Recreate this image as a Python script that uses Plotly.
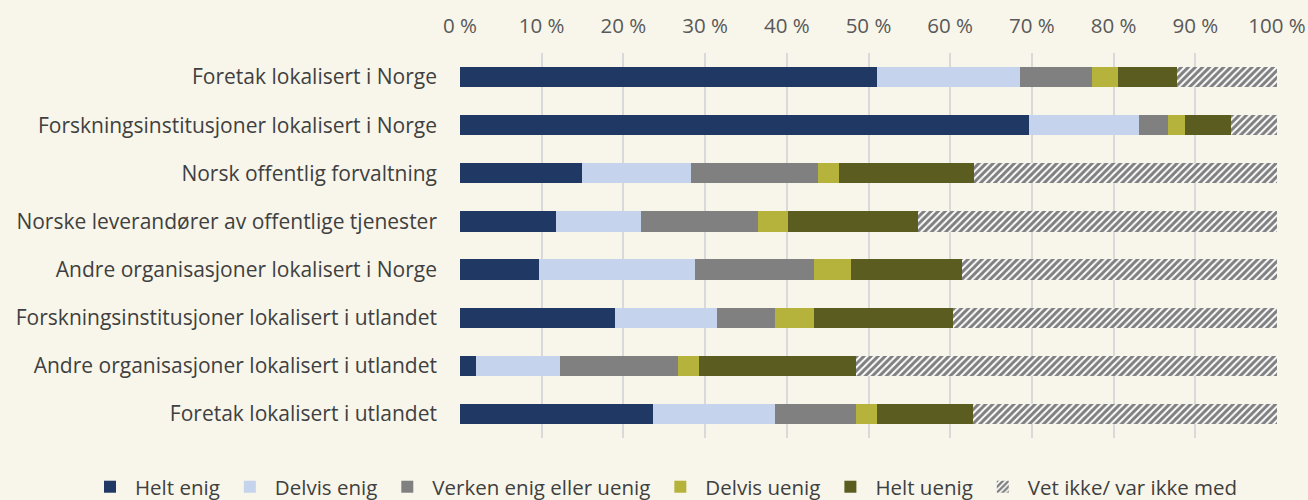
import plotly.graph_objects as go

categories = [
    "Foretak lokalisert i Norge",
    "Forskningsinstitusjoner lokalisert i Norge",
    "Norsk offentlig forvaltning",
    "Norske leverandører av offentlige tjenester",
    "Andre organisasjoner lokalisert i Norge",
    "Forskningsinstitusjoner lokalisert i utlandet",
    "Andre organisasjoner lokalisert i utlandet",
    "Foretak lokalisert i utlandet",
]

helt_enig = [51.0, 69.6, 14.9, 11.7, 9.7, 19.0, 1.9, 23.6]
delvis_enig = [17.6, 13.5, 13.4, 10.4, 19.1, 12.5, 10.4, 15.0]
verken = [8.8, 3.5, 15.5, 14.4, 14.5, 7.1, 14.4, 9.9]
delvis_uenig = [3.1, 2.1, 2.6, 3.7, 4.6, 4.7, 2.6, 2.6]
helt_uenig = [7.2, 5.7, 16.5, 15.9, 13.5, 17.0, 19.2, 11.7]
vet_ikke = [12.3, 5.6, 37.1, 43.9, 38.6, 39.7, 51.5, 37.2]

tick_vals = [0, 10, 20, 30, 40, 50, 60, 70, 80, 90, 100]
tick_text = ["0 %", "10 %", "20 %", "30 %", "40 %", "50 %", "60 %", "70 %", "80 %", "90 %", "100 %"]

series = [
    ("Helt enig", helt_enig, "#203864"),
    ("Delvis enig", delvis_enig, "#C5D3EC"),
    ("Verken enig eller uenig", verken, "#808080"),
    ("Delvis uenig", delvis_uenig, "#B6B33C"),
    ("Helt uenig", helt_uenig, "#5B5C20"),
]

FONT = "Open Sans"
fig = go.Figure()
for name, vals, col in series:
    fig.add_trace(go.Bar(
        name=name, y=categories, x=vals, orientation="h",
        marker=dict(color=col, line=dict(width=0)),
    ))
fig.add_trace(go.Bar(
    name="Vet ikke/ var ikke med", y=categories, x=vet_ikke, orientation="h",
    marker=dict(color="white", line=dict(width=0),
                pattern=dict(shape="/", fgcolor="#000000", bgcolor="white",
                             size=5, solidity=0.6)),
))

bg = "#F8F6EA"
fig.update_layout(
    barmode="stack",
    bargap=0.58,
    paper_bgcolor=bg,
    plot_bgcolor=bg,
    width=1308, height=500,
    margin=dict(l=460, r=31, t=53, b=62, autoexpand=False),
    font=dict(family=FONT, color="#404040", size=21),
    xaxis=dict(
        side="top", range=[0, 100], tickvals=tick_vals, ticktext=tick_text,
        showgrid=True, gridcolor="#D9D9D9", gridwidth=1.5, zeroline=False,
        tickfont=dict(size=20.5, color="#595959"), ticks="", fixedrange=True,
        ticklabelstandoff=15,
    ),
    yaxis=dict(
        autorange="reversed", showgrid=False, ticks="", ticklabelstandoff=22,
        tickfont=dict(size=21, color="#404040"), fixedrange=True,
    ),
    legend=dict(
        orientation="h", xref="paper", x=-0.459, xanchor="left",
        yref="paper", y=-0.127, yanchor="middle",
        font=dict(size=20.5, color="#404040"), traceorder="normal",
        itemwidth=40, bgcolor="rgba(0,0,0,0)",
    ),
)

fig.write_html("out.html", config={"displayModeBar": False},
               post_script="document.body.style.margin='0';")
